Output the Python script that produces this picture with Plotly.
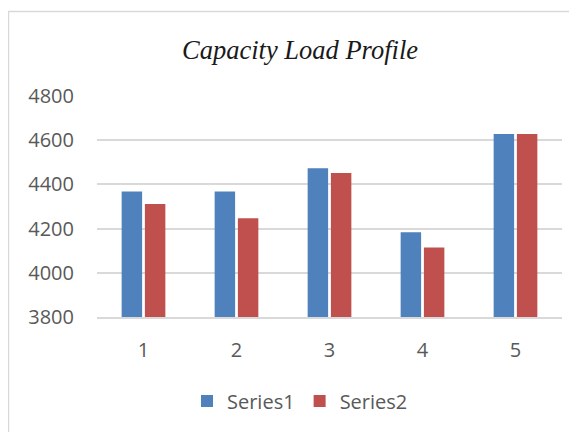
import plotly.graph_objects as go

categories = ["1", "2", "3", "4", "5"]
series1 = [4368, 4368, 4473, 4184, 4628]
series2 = [4311, 4247, 4452, 4115, 4628]
y_ticks = [3800, 4000, 4200, 4400, 4600, 4800]

# page has an 8px body margin; figure coords = page coords - 8
OFF = 8
W, H = 577 - OFF, 432 - OFF
L = 97 - OFF
T = 96 - OFF
R = W - (562 - OFF)
B = H - (317 - OFF)
pw = W - L - R
ph = H - T - B

def px2x(px):
    return (px - OFF - L) / pw

def py2y(py):
    return (H - B - (py - OFF)) / ph

fig = go.Figure()
fig.add_trace(go.Bar(x=categories, y=series1, name="Series1",
                     marker=dict(color="#4F81BD", line=dict(width=0))))
fig.add_trace(go.Bar(x=categories, y=series2, name="Series2",
                     marker=dict(color="#C0504D", line=dict(width=0))))

tick_font = dict(family="Open Sans, Liberation Sans, sans-serif", size=20, color="#595959")

fig.update_layout(
    width=W, height=H,
    margin=dict(l=L, r=R, t=T, b=B, pad=0),
    paper_bgcolor="white", plot_bgcolor="white",
    barmode="group", bargap=0.5, bargroupgap=0.12,
    title=dict(text="<i>Capacity Load Profile</i>",
               font=dict(family="Liberation Serif, serif", size=26.5, color="#1a1a1a"),
               x=px2x(300), xanchor="center", xref="paper",
               y=1 - (50 - OFF) / H, yanchor="middle", yref="container"),
    xaxis=dict(showgrid=False, showline=True, linecolor="#d9d9d9", linewidth=1.5,
               ticks="", tickfont=tick_font, ticklabelstandoff=14),
    yaxis=dict(range=[3800, 4800], tickvals=y_ticks, showgrid=True,
               gridcolor="#d9d9d9", gridwidth=1.5, zeroline=False, showline=False,
               ticks="", tickfont=tick_font, ticklabelstandoff=22),
    legend=dict(orientation="h", x=px2x(300), xanchor="center",
                y=py2y(401), yanchor="middle",
                font=tick_font, itemwidth=30, traceorder="normal"),
    showlegend=True,
    shapes=[dict(type="rect", xref="paper", yref="paper",
                 x0=px2x(8.5), x1=1.4, y0=-1.2, y1=py2y(11.5),
                 line=dict(color="#d9d9d9", width=1.5), layer="below")],
)

fig.write_html("out.html")
